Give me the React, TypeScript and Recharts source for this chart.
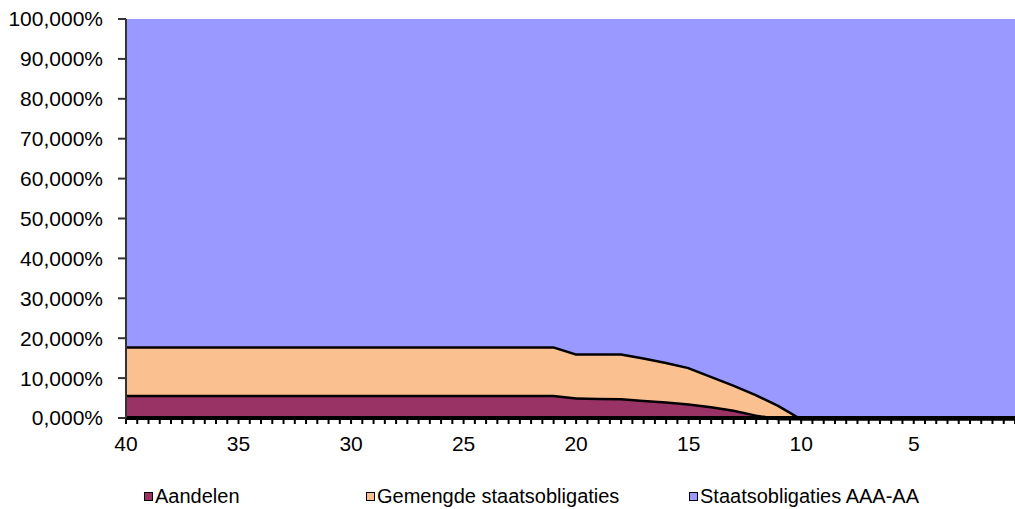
import React from 'react'
import { AreaChart, Area, XAxis, YAxis, Legend } from 'recharts'

// years to retirement, 40 down to 0.5
const years = [
  40, 39, 38, 37, 36, 35, 34, 33, 32, 31, 30, 29, 28, 27, 26, 25, 24, 23, 22, 21,
  20, 19, 18, 17, 16, 15, 14, 13, 12, 11, 10, 9, 8, 7, 6, 5, 4, 3, 2, 1, 0.5,
]
const aandelen = [
  5.8, 5.8, 5.8, 5.8, 5.8, 5.8, 5.8, 5.8, 5.8, 5.8, 5.8, 5.8, 5.8, 5.8, 5.8, 5.8, 5.8, 5.8, 5.8, 5.8,
  5.2, 5.1, 5.0, 4.6, 4.2, 3.7, 3.0, 2.1, 0.9, 0, 0, 0, 0, 0, 0, 0, 0, 0, 0, 0, 0,
]
const gemengde = [
  12.2, 12.2, 12.2, 12.2, 12.2, 12.2, 12.2, 12.2, 12.2, 12.2, 12.2, 12.2, 12.2, 12.2, 12.2, 12.2, 12.2, 12.2, 12.2, 12.2,
  11.0, 11.1, 11.2, 10.6, 9.9, 9.1, 7.6, 6.3, 5.1, 3.3, 0, 0, 0, 0, 0, 0, 0, 0, 0, 0, 0,
]
const staats = [
  82, 82, 82, 82, 82, 82, 82, 82, 82, 82, 82, 82, 82, 82, 82, 82, 82, 82, 82, 82,
  83.8, 83.8, 83.8, 84.8, 85.9, 87.2, 89.4, 91.6, 94.0, 96.7, 100, 100, 100, 100, 100, 100, 100, 100, 100, 100, 100,
]

const yTicks = [0, 10, 20, 30, 40, 50, 60, 70, 80, 90, 100]
const xLabels = [40, 35, 30, 25, 20, 15, 10, 5]
// a tick mark every half year
const xTicks = Array.from({ length: 80 }, (_, i) => 40 - i * 0.5)

const series = [
  { key: 'aandelen', name: 'Aandelen', color: '#993366' },
  { key: 'gemengde', name: 'Gemengde staatsobligaties', color: '#FAC090' },
  { key: 'staats', name: 'Staatsobligaties AAA-AA', color: '#9999FF' },
]

const data = years.map((y, i) => ({
  year: y,
  aandelen: aandelen[i],
  gemengde: gemengde[i],
  staats: staats[i],
}))

const font = '"Liberation Sans", Arial, sans-serif'
const legendItemWidths = [222, 323, 300]

const pct = (v: number) => v.toFixed(3).replace('.', ',') + '%'

function LegendContent() {
  return (
    <div
      style={{
        display: 'flex',
        paddingLeft: 144,
        height: 26,
        alignItems: 'center',
        fontFamily: font,
        fontSize: 20,
        color: '#000',
      }}
    >
      {series.map((s, i) => (
        <div
          key={s.key}
          style={{ display: 'flex', alignItems: 'center', width: legendItemWidths[i] }}
        >
          <span
            style={{
              width: 7,
              height: 7,
              background: s.color,
              border: '1px solid #000',
              marginRight: 2,
              display: 'inline-block',
            }}
          />
          <span>{s.name}</span>
        </div>
      ))}
    </div>
  )
}

export default function App() {
  return (
    <div style={{ position: 'absolute', left: 0, top: 0, background: '#fff' }}>
      <AreaChart
        width={1015}
        height={509}
        data={data}
        margin={{ top: 19, right: 0, left: 0, bottom: 0 }}
      >
        <XAxis
          dataKey="year"
          type="number"
          domain={[0.5, 40]}
          reversed
          ticks={xTicks}
          interval={0}
          tickFormatter={(v: number) => (xLabels.includes(v) ? String(v) : '')}
          height={65}
          tickSize={6}
          tickMargin={12}
          axisLine={{ stroke: '#000', strokeWidth: 4 }}
          tickLine={{ stroke: '#000', strokeWidth: 2 }}
          tick={{ fontSize: 21, fill: '#000', fontFamily: font }}
        />
        <YAxis
          domain={[0, 100]}
          ticks={yTicks}
          interval={0}
          width={126}
          tickFormatter={pct}
          tickSize={8}
          tickMargin={15}
          axisLine={{ stroke: '#333', strokeWidth: 2 }}
          tickLine={{ stroke: '#333', strokeWidth: 2 }}
          tick={{ fontSize: 21, fill: '#000', fontFamily: font }}
        />
        <Legend verticalAlign="bottom" content={() => <LegendContent />} />
        {series.map((s) => (
          <Area
            key={s.key}
            type="linear"
            dataKey={s.key}
            name={s.name}
            stackId="1"
            fill={s.color}
            fillOpacity={1}
            stroke={s.key === 'staats' ? 'none' : '#000'}
            strokeWidth={5}
            isAnimationActive={false}
          />
        ))}
      </AreaChart>
    </div>
  )
}
